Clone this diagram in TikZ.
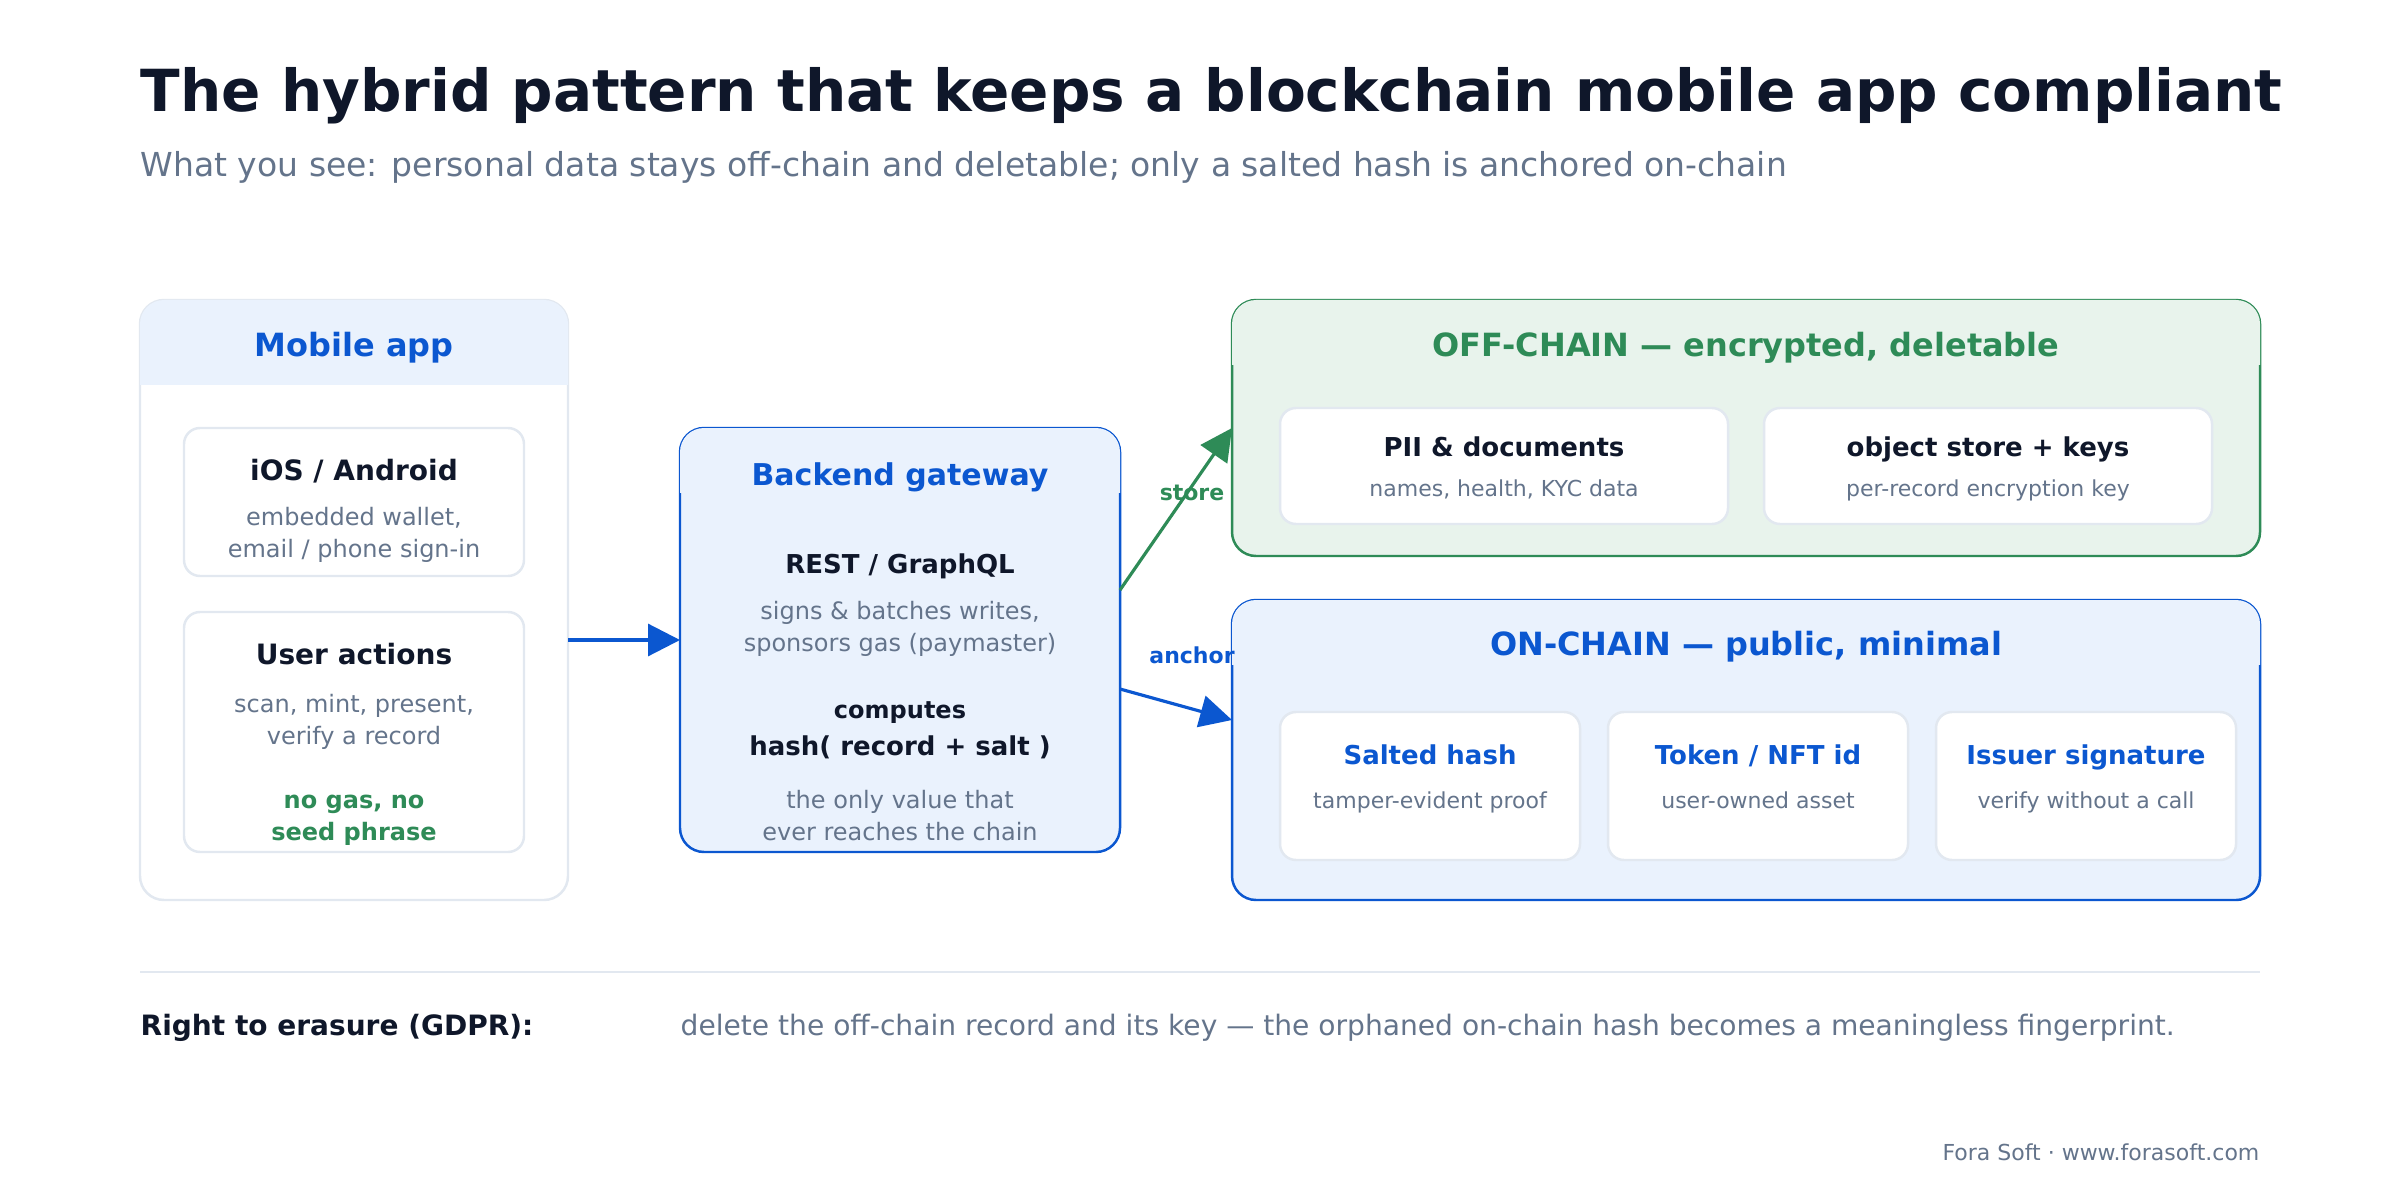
\documentclass[tikz,border=0pt]{standalone}
\usepackage{fontspec}
\setmainfont{DejaVu Sans}
\usetikzlibrary{arrows.meta}
\definecolor{ink}{HTML}{0F172A}
\definecolor{muted}{HTML}{64748B}
\definecolor{brandblue}{HTML}{0B57D0}
\definecolor{brandgreen}{HTML}{2E8B57}
\definecolor{bluefill}{HTML}{EAF2FD}
\definecolor{greenfill}{HTML}{E8F3EC}
\definecolor{hairline}{HTML}{E2E8F0}
\newcommand{\fs}[2]{\fontsize{#1pt}{#2pt}\selectfont}
% tinted header band over the top of a panel
\newcommand{\headband}[3]{%
  \begin{scope}
    \clip ([xshift=-1mm,yshift=1mm]#1.north west) rectangle ([xshift=1mm,yshift=-#3]#1.north east);
    \fill[#2, rounded corners=0.24cm] (#1.south west) rectangle (#1.north east);
  \end{scope}}
\begin{document}
\begin{tikzpicture}[
  panel/.style={draw=#1, line width=0.7pt, rounded corners=0.24cm, inner sep=0pt, outer sep=0pt},
  card/.style={draw=hairline, fill=white, line width=0.7pt, rounded corners=0.16cm, inner sep=0pt, outer sep=0pt},
  zonetitle/.style={font=\bfseries\fs{9.1}{11}, anchor=base},
  boxtitle/.style={font=\bfseries\fs{8.54}{10}, text=brandblue, anchor=base},
  itemtitle/.style={font=\bfseries\fs{7.4}{9}, text=ink, anchor=base},
  body/.style={font=\fs{6.83}{9.1}, text=muted, align=center, anchor=base},
  note/.style={font=\fs{6.26}{8}, text=muted, anchor=base},
  flowlabel/.style={font=\bfseries\fs{6.26}{8}, anchor=base},
  flow/.style={draw=#1, line width=0.9pt, -{Triangle[length=0.32cm,width=0.32cm]}}
]
  \useasboundingbox (0,0) rectangle (24,12);
  \fill[white] (0,0) rectangle (24,12);

  % heading
  \node[font=\bfseries\fs{16.5}{20}, text=ink, anchor=base west, inner sep=0pt] (title) at (1.4,10.88)
    {The hybrid pattern that keeps a blockchain mobile app compliant};
  \node[font=\fs{9.39}{11}, text=muted, anchor=base west, inner sep=0pt] (subtitle) at (1.4,10.23)
    {What you see: personal data stays off-chain and deletable; only a salted hash is anchored on-chain};

  % mobile app
  \node[panel=hairline, fill=white, minimum width=4.28cm, minimum height=6cm] (mobile) at (3.54,6) {};
  \headband{mobile}{bluefill}{0.84cm}
  \node[boxtitle, font=\bfseries\fs{9.1}{11}] (mobiletitle) at (3.54,8.44) {Mobile app};
  \node[card, minimum width=3.4cm, minimum height=1.48cm] (device) at (3.54,6.98) {};
  \node[itemtitle, font=\bfseries\fs{7.97}{9}] (devicetitle) at (3.54,7.2) {iOS / Android};
  \node[body] (devicetext) at (3.54,6.43) {embedded wallet,\\email / phone sign-in};
  \node[card, minimum width=3.4cm, minimum height=2.4cm] (actions) at (3.54,4.68) {};
  \node[itemtitle, font=\bfseries\fs{7.97}{9}] (actionstitle) at (3.54,5.36) {User actions};
  \node[body] (actionstext) at (3.54,4.56) {scan, mint, present,\\verify a record};
  \node[body, font=\bfseries\fs{6.83}{9.1}, text=brandgreen] (nogas) at (3.54,3.6) {no gas, no\\seed phrase};

  % backend gateway
  \node[panel=brandblue, fill=bluefill, minimum width=4.4cm, minimum height=4.24cm] (gateway) at (9,5.6) {};
  \headband{gateway}{bluefill}{0.64cm}
  \node[boxtitle] (gatewaytitle) at (9,7.15) {Backend gateway};
  \node[itemtitle] (api) at (9,6.27) {REST / GraphQL};
  \node[body] (apitext) at (9,5.49) {signs \& batches writes,\\sponsors gas (paymaster)};
  \node[itemtitle, font=\bfseries\fs{6.83}{9}] (computes) at (9,4.82) {computes};
  \node[itemtitle] (hash) at (9,4.45) {hash( record + salt )};
  \node[body] (hashtext) at (9,3.6) {the only value that\\ever reaches the chain};

  % off-chain zone
  \node[panel=brandgreen, fill=greenfill, minimum width=10.28cm, minimum height=2.56cm] (offchain) at (17.46,7.72) {};
  \headband{offchain}{greenfill}{0.64cm}
  \node[zonetitle, text=brandgreen] (offtitle) at (17.46,8.44) {OFF-CHAIN — encrypted, deletable};
  \node[card, minimum width=4.48cm, minimum height=1.16cm] (pii) at (15.04,7.34) {};
  \node[itemtitle] at (15.04,7.44) {PII \& documents};
  \node[note] at (15.04,7.04) {names, health, KYC data};
  \node[card, minimum width=4.48cm, minimum height=1.16cm] (store) at (19.88,7.34) {};
  \node[itemtitle] at (19.88,7.44) {object store + keys};
  \node[note] at (19.88,7.04) {per-record encryption key};

  % on-chain zone
  \node[panel=brandblue, fill=bluefill, minimum width=10.28cm, minimum height=3cm] (onchain) at (17.46,4.5) {};
  \headband{onchain}{bluefill}{0.64cm}
  \node[zonetitle, text=brandblue] (ontitle) at (17.46,5.45) {ON-CHAIN — public, minimal};
  \node[card, minimum width=3cm, minimum height=1.48cm] (salted) at (14.3,4.14) {};
  \node[itemtitle, text=brandblue] at (14.3,4.36) {Salted hash};
  \node[note] at (14.3,3.92) {tamper-evident proof};
  \node[card, minimum width=3cm, minimum height=1.48cm] (token) at (17.58,4.14) {};
  \node[itemtitle, text=brandblue] at (17.58,4.36) {Token / NFT id};
  \node[note] at (17.58,3.92) {user-owned asset};
  \node[card, minimum width=3cm, minimum height=1.48cm] (issuer) at (20.86,4.14) {};
  \node[itemtitle, text=brandblue] at (20.86,4.36) {Issuer signature};
  \node[note] at (20.86,3.92) {verify without a call};

  % flows
  \draw[flow=brandblue] (mobile.east |- gateway.west) -- (gateway.west);
  \draw[flow=brandgreen] ([yshift=0.5cm]gateway.east) -- (offchain.west);
  \draw[flow=brandblue] ([yshift=-0.49cm]gateway.east) -- ([yshift=0.3cm]onchain.west);
  \node[flowlabel, text=brandgreen] (storelabel) at (11.92,7.0) {store};
  \node[flowlabel, text=brandblue] (anchorlabel) at (11.92,5.37) {anchor};

  % erasure note
  \draw[hairline, line width=0.6pt] (1.4,2.28) -- (22.6,2.28);
  \node[font=\bfseries\fs{7.97}{9}, text=ink, anchor=base west, inner sep=0pt] (erasure) at (1.4,1.65) {Right to erasure (GDPR):};
  \node[font=\fs{8.0}{9}, text=muted, anchor=base west, inner sep=0pt] (erasuretext) at (6.8,1.65)
    {delete the off-chain record and its key — the orphaned on-chain hash becomes a meaningless fingerprint.};
  \node[note, anchor=base east, inner sep=0pt] (credit) at (22.6,0.4) {Fora Soft · www.forasoft.com};
\end{tikzpicture}
\end{document}
